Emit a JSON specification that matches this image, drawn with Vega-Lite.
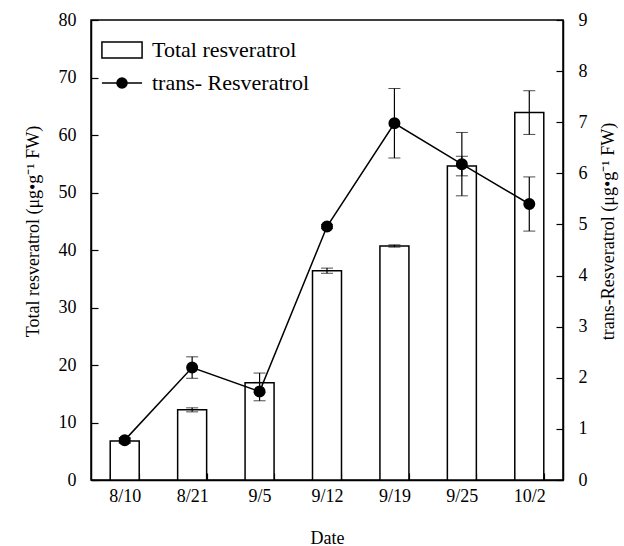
{
  "$schema": "https://vega.github.io/schema/vega-lite/v6.json",
  "width": 472,
  "height": 460,
  "autosize": "none",
  "padding": {"left": 91, "top": 20, "right": 61, "bottom": 66},
  "background": "white",
  "config": {
    "view": {"stroke": "black", "strokeWidth": 1.5},
    "style": {"guide-label": {"font": "Liberation Serif", "fontSize": 18, "fill": "black"}, "guide-title": {"font": "Liberation Serif", "fontSize": 18, "fontWeight": "normal", "fill": "black"}},
    "axis": {
      "domainColor": "black", "domainWidth": 1.5,
      "tickColor": "black", "tickWidth": 1.2,
      "labelFont": "Liberation Serif", "labelFontSize": 18, "labelColor": "black",
      "titleFont": "Liberation Serif", "titleFontSize": 18, "titleFontWeight": "normal", "titleColor": "black",
      "grid": false
    },
    "legend": {"labelFont": "Liberation Serif", "labelFontSize": 22, "labelColor": "black"}
  },
  "data": {
    "values": [
      {"date": "8/10", "total": 6.8, "totalErr": 0.4, "trans": 0.78, "transErr": 0.05},
      {"date": "8/21", "total": 12.2, "totalErr": 0.35, "trans": 2.2, "transErr": 0.21},
      {"date": "9/5", "total": 16.9, "totalErr": 1.7, "trans": 1.73, "transErr": 0.18},
      {"date": "9/12", "total": 36.4, "totalErr": 0.45, "trans": 4.96, "transErr": 0.04},
      {"date": "9/19", "total": 40.7, "totalErr": 0.2, "trans": 6.98, "transErr": 0.68},
      {"date": "9/25", "total": 54.6, "totalErr": 1.7, "trans": 6.18, "transErr": 0.62},
      {"date": "10/2", "total": 63.9, "totalErr": 3.8, "trans": 5.4, "transErr": 0.53}
    ]
  },
  "encoding": {
    "x": {
      "field": "date", "type": "ordinal", "sort": null,
      "scale": {"paddingInner": 0.57, "paddingOuter": 0.285},
      "axis": {"title": "Date", "labelAngle": 0, "tickBand": "extent", "tickSize": -7, "labelPadding": 14, "titlePadding": 24, "labelFont": "Liberation Serif", "labelFontSize": 18}
    }
  },
  "layer": [
    {
      "layer": [
        {
          "mark": {"type": "bar", "stroke": "black", "strokeWidth": 1.5},
          "encoding": {
            "y": {
              "field": "total", "type": "quantitative",
              "scale": {"domain": [0, 80], "nice": false},
              "axis": {"title": "Total resveratrol (μg•g⁻¹ FW)", "orient": "left", "values": [0,10,20,30,40,50,60,70,80], "tickSize": -7, "labelPadding": 22, "titlePadding": 16, "titleY": 211, "labelFont": "Liberation Serif", "labelFontSize": 18}
            },
            "fill": {
              "datum": "Total resveratrol",
              "scale": {"domain": ["Total resveratrol", "trans- Resveratrol"], "range": ["white", "black"]},
              "legend": {
                "title": null, "orient": "none", "legendX": 14, "legendY": 13, "padding": 0,
                "symbolSize": 1000, "symbolStrokeColor": "black", "symbolStrokeWidth": 1.5,
                "labelOffset": 13, "rowPadding": 5, "labelFont": "Liberation Serif", "labelFontSize": 22,
                "encode": {"symbols": {"update": {"shape": {"signal": "datum.value === 'Total resveratrol' ? 'M-1.27,-0.5H1.27V0.5H-1.27Z' : 'M-1.27,0H1.27M0.32,0A0.32,0.32,0,1,1,-0.32,0A0.32,0.32,0,1,1,0.32,0Z'"}}}}
              }
            }
          }
        },
        {
          "mark": {"type": "errorbar", "color": "black", "ticks": {"size": 12, "color": "black"}, "rule": {"strokeWidth": 1.2}},
          "encoding": {
            "y": {"field": "total", "type": "quantitative", "title": "Total resveratrol (μg•g⁻¹ FW)"},
            "yError": {"field": "totalErr"}
          }
        }
      ]
    },
    {
      "layer": [
        {
          "mark": {"type": "line", "color": "black", "strokeWidth": 1.5},
          "encoding": {
            "y": {
              "field": "trans", "type": "quantitative",
              "scale": {"domain": [0, 9], "nice": false},
              "axis": {"title": "trans-Resveratrol (μg•g⁻¹ FW)", "orient": "right", "values": [0,1,2,3,4,5,6,7,8,9], "tickSize": -7, "labelPadding": 22, "titleAngle": 270, "titlePadding": 30, "titleY": 211, "labelFont": "Liberation Serif", "labelFontSize": 18}
            }
          }
        },
        {
          "mark": {"type": "errorbar", "color": "black", "ticks": {"size": 12, "color": "black"}, "rule": {"strokeWidth": 1.2}},
          "encoding": {
            "y": {"field": "trans", "type": "quantitative", "title": "trans-Resveratrol (μg•g⁻¹ FW)"},
            "yError": {"field": "transErr"}
          }
        },
        {
          "mark": {"type": "point", "filled": true, "size": 100, "opacity": 1, "stroke": "black"},
          "encoding": {
            "y": {"field": "trans", "type": "quantitative", "title": "trans-Resveratrol (μg•g⁻¹ FW)"},
            "fill": {"datum": "trans- Resveratrol"}
          }
        }
      ]
    }
  ],
  "resolve": {"scale": {"y": "independent"}}
}
